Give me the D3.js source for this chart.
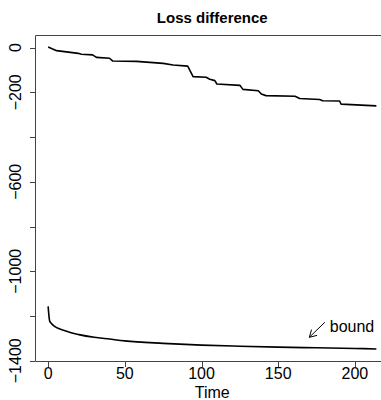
<!DOCTYPE html>
<html>
<head>
<meta charset="utf-8">
<script src="https://cdn.jsdelivr.net/npm/d3@7"></script>
<style>
  body { margin: 0; background: #fff; }
  text { font-family: "Liberation Sans", Arial, sans-serif; }
</style>
</head>
<body>
<script>
// loss difference as [time, value] breakpoints
var lossT = [0, 5.5, 19.6, 21.7, 29, 31.5, 40, 42, 57.6, 75, 81.5, 91, 94.5, 103, 105.4, 108.7, 110, 125, 127, 137, 139, 142, 161, 164, 177, 179, 190, 191, 214];
var lossV = [2, -14, -26, -30, -33, -44, -48, -60, -62, -71, -78, -83, -130, -133, -142, -148, -163, -169, -187, -193, -208, -215, -218, -228, -232, -238, -239, -253, -261];

// bound curve
var boundT = [0, 1, 2, 4, 7, 10, 15, 20, 30, 40, 50, 75, 100, 125, 150, 175, 200, 214];
var boundV = [-1157, -1222, -1232, -1245, -1256, -1264, -1275, -1283, -1295, -1303, -1311, -1322, -1330, -1335, -1339, -1342, -1345, -1347];

var xTicks = [0, 50, 100, 150, 200];
var yTicks = [0, -200, -400, -600, -800, -1000, -1200, -1400];
var yLabels = [0, -200, -600, -1000, -1400];

var W = 381, H = 400;
var mLeft = 35, mTop = 35, plotW = 354.5, mBottom = 361;

var svg = d3.select("body").append("svg")
  .attr("width", W)
  .attr("height", H);

// R style 4% padding around the data range
var xr = [d3.min(lossT.concat(boundT)), d3.max(lossT.concat(boundT))];
var xp = (xr[1] - xr[0]) * 0.04;
var x = d3.scaleLinear().domain([xr[0] - xp, xr[1] + xp]).range([mLeft, mLeft + plotW]);

var allV = lossV.concat(boundV);
var yr = [d3.min(allV), d3.max(allV)];
var yp = (yr[1] - yr[0]) * 0.04;
var y = d3.scaleLinear().domain([yr[0] - yp, yr[1] + yp]).range([mBottom, mTop]);

// frame (right side falls outside the picture)
svg.append("path")
  .attr("d", "M" + (mLeft + plotW) + "," + (mTop + 0.5) + "H" + (mLeft + 0.5) + "V" + (mBottom + 0.5) + "H" + (mLeft + plotW))
  .attr("fill", "none")
  .attr("stroke", "#444")
  .attr("stroke-width", 1);

// y ticks
svg.selectAll(".ytick").data(yTicks).enter()
  .append("line")
  .attr("x1", mLeft - 5).attr("x2", mLeft)
  .attr("y1", function(d){ return Math.round(y(d)) + 0.5; })
  .attr("y2", function(d){ return Math.round(y(d)) + 0.5; })
  .attr("stroke", "#444");

svg.selectAll(".ylab").data(yLabels).enter()
  .append("text")
  .attr("transform", function(d){ return "translate(21," + y(d) + ") rotate(-90)"; })
  .attr("text-anchor", "middle")
  .style("font-size", "16px")
  .text(function(d){ return d < 0 ? "\u2212" + (-d) : d; });

// x ticks
svg.selectAll(".xtick").data(xTicks).enter()
  .append("line")
  .attr("x1", function(d){ return Math.round(x(d)) + 0.5; })
  .attr("x2", function(d){ return Math.round(x(d)) + 0.5; })
  .attr("y1", mBottom).attr("y2", mBottom + 6)
  .attr("stroke", "#444");

svg.selectAll(".xlab").data(xTicks).enter()
  .append("text")
  .attr("x", function(d){ return x(d); })
  .attr("y", 378.5)
  .attr("text-anchor", "middle")
  .style("font-size", "16px")
  .text(function(d){ return d; });

// titles
svg.append("text")
  .attr("x", mLeft + plotW / 2).attr("y", 23)
  .attr("text-anchor", "middle")
  .style("font-size", "15px")
  .style("font-weight", "bold")
  .text("Loss difference");

svg.append("text")
  .attr("x", mLeft + plotW / 2).attr("y", 398)
  .attr("text-anchor", "middle")
  .style("font-size", "16px")
  .text("Time");

// series
var line = d3.line()
  .x(function(d){ return x(d[0]); })
  .y(function(d){ return y(d[1]); });

svg.append("path")
  .datum(d3.zip(lossT, lossV))
  .attr("d", line)
  .attr("fill", "none")
  .attr("stroke", "#000")
  .attr("stroke-width", 1.6)
  .attr("stroke-linejoin", "round");

svg.append("path")
  .datum(d3.zip(boundT, boundV))
  .attr("d", line.curve(d3.curveMonotoneX))
  .attr("fill", "none")
  .attr("stroke", "#000")
  .attr("stroke-width", 1.6);

// annotation: arrow + label
var arrowFrom = [180.4, -1228], arrowTo = [170.3, -1295];
var ax1 = x(arrowFrom[0]), ay1 = y(arrowFrom[1]), ax2 = x(arrowTo[0]), ay2 = y(arrowTo[1]);
var ang = Math.atan2(ay2 - ay1, ax2 - ax1), hl = 8;
svg.append("path")
  .attr("d", "M" + ax1 + "," + ay1 + "L" + ax2 + "," + ay2 +
    "M" + (ax2 - hl * Math.cos(ang - Math.PI / 6)) + "," + (ay2 - hl * Math.sin(ang - Math.PI / 6)) +
    "L" + ax2 + "," + ay2 +
    "L" + (ax2 - hl * Math.cos(ang + Math.PI / 6)) + "," + (ay2 - hl * Math.sin(ang + Math.PI / 6)))
  .attr("fill", "none")
  .attr("stroke", "#000")
  .attr("stroke-width", 1);

svg.append("text")
  .attr("x", x(183.6)).attr("y", y(-1270))
  .style("font-size", "16px")
  .text("bound");
</script>
</body>
</html>
